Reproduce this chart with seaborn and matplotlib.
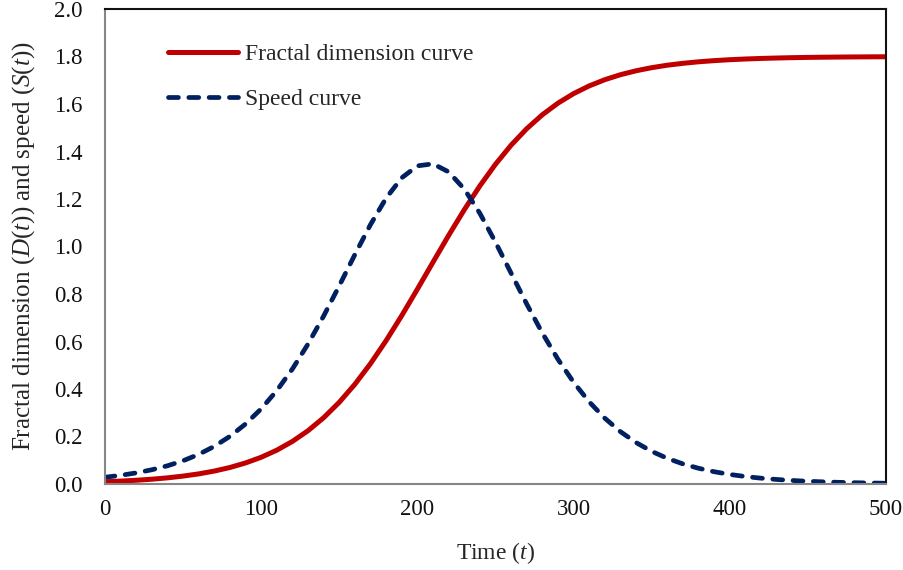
import pandas as pd
import matplotlib
matplotlib.use("Agg")
import matplotlib.pyplot as plt
import seaborn as sns

# Values (step of 10 in time)
time_t = list(range(0, 510, 10))
fractal_dim = [
    0.0095, 0.0122, 0.0157, 0.0202, 0.0259, 0.0333, 0.0426, 0.0545, 0.0696, 0.0887,
    0.1126, 0.1424, 0.1794, 0.2246, 0.2792, 0.3442, 0.4202, 0.5070, 0.6040, 0.7093,
    0.8205, 0.9341, 1.0467, 1.1547, 1.2553, 1.3464, 1.4268, 1.4961, 1.5548, 1.6036,
    1.6437, 1.6762, 1.7024, 1.7233, 1.7399, 1.7530, 1.7633, 1.7713, 1.7777, 1.7826,
    1.7865, 1.7895, 1.7918, 1.7936, 1.7951, 1.7962, 1.7970, 1.7977, 1.7982, 1.7986,
    1.7989,
]
speed = [
    0.0284, 0.0365, 0.0468, 0.0600, 0.0767, 0.0980, 0.1248, 0.1586, 0.2008, 0.2529,
    0.3166, 0.3934, 0.4845, 0.5896, 0.7076, 0.8351, 0.9663, 1.0926, 1.2040, 1.2894,
    1.3395, 1.3481, 1.3141, 1.2420, 1.1396, 1.0179, 0.8876, 0.7577, 0.6354, 0.5249,
    0.4282, 0.3458, 0.2769, 0.2203, 0.1744, 0.1375, 0.1080, 0.0846, 0.0662, 0.0517,
    0.0403, 0.0314, 0.0245, 0.0191, 0.0148, 0.0115, 0.0090, 0.0070, 0.0054, 0.0042,
    0.0032,
]
x_ticks = [0, 100, 200, 300, 400, 500]
y_ticks = [0.0, 0.2, 0.4, 0.6, 0.8, 1.0, 1.2, 1.4, 1.6, 1.8, 2.0]

sns.set_style("white")
plt.rcParams["font.family"] = ["Liberation Serif", "DejaVu Serif"]
plt.rcParams["mathtext.fontset"] = "custom"
plt.rcParams["mathtext.rm"] = "Liberation Serif"
plt.rcParams["mathtext.it"] = "Liberation Serif:italic"

df = pd.DataFrame({"t": time_t, "D": fractal_dim, "S": speed})

fig = plt.figure(figsize=(9.04, 5.70), dpi=100)
ax = fig.add_axes([105 / 904, 1 - 484 / 570, 781 / 904, 475 / 570])

red = "#C00000"
navy = "#002060"

sns.lineplot(data=df, x="t", y="D", ax=ax, color=red, linewidth=3.6,
             label="Fractal dimension curve")
sns.lineplot(data=df, x="t", y="S", ax=ax, color=navy, linewidth=3.4,
             linestyle=(0, (2.1, 2.2)), dash_capstyle="round",
             label="Speed curve")

ax.set_xlim(0, 500)
ax.set_ylim(0, 2.0)
ax.set_xticks(x_ticks)
ax.set_yticks(y_ticks)
ax.set_yticklabels([f"{v:.1f}" for v in y_ticks])
ax.tick_params(axis="both", direction="in", length=4, width=1, color="#868686",
               labelsize=16.5, labelcolor="#111111")
ax.tick_params(axis="y", pad=16)
ax.tick_params(axis="x", pad=11)

for side in ["left", "bottom"]:
    ax.spines[side].set_color("#868686")
    ax.spines[side].set_linewidth(1.5)
for side in ["top", "right"]:
    ax.spines[side].set_color("#111111")
    ax.spines[side].set_linewidth(1.5)

ax.set_xlabel("Time ($t$)", fontsize=17, labelpad=14)
ax.set_ylabel("Fractal dimension ($D$($t$)) and speed ($S$($t$))", fontsize=18,
              labelpad=12)

leg = ax.legend(loc="upper left", bbox_to_anchor=(0.081, 0.927), frameon=False,
                fontsize=17, handlelength=2.97, handletextpad=0.3,
                labelspacing=0.98, borderpad=0, borderaxespad=0)
for line in leg.get_lines():
    line.set_dash_capstyle("round")

fig.savefig("out.png", dpi=100)
